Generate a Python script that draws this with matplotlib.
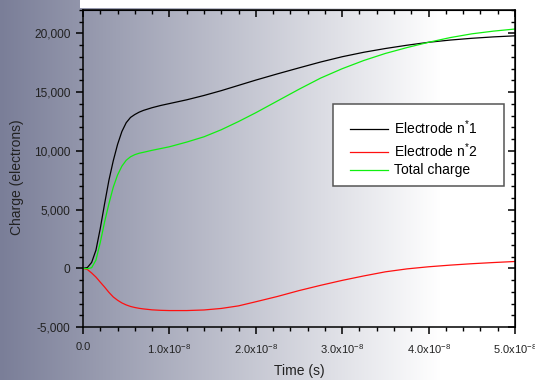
import numpy as np
import matplotlib
matplotlib.use("Agg")
import matplotlib.pyplot as plt
from matplotlib.ticker import MultipleLocator, FixedLocator, FuncFormatter
from matplotlib.patches import Rectangle

plt.rcParams['font.family'] = ['Liberation Sans', 'DejaVu Sans']
plt.rcParams['mathtext.fontset'] = 'custom'
plt.rcParams['mathtext.rm'] = 'Liberation Sans'
plt.rcParams['mathtext.it'] = 'Liberation Sans'

# Time samples (units of 1e-8 s)
time_e8 = [0, 0.05, 0.1, 0.15, 0.2, 0.25, 0.3, 0.35, 0.4, 0.45, 0.5, 0.55, 0.6,
           0.65, 0.7, 0.8, 0.9, 1.0, 1.2, 1.4, 1.6, 1.8, 2.0, 2.25, 2.5, 2.75,
           3.0, 3.25, 3.5, 3.75, 4.0, 4.25, 4.5, 4.75, 5.0]

# Collected charge (electrons)
electrode_1 = [0, 60, 500, 1550, 3400, 5500, 7500, 9150, 10550, 11650, 12400,
               12850, 13100, 13300, 13450, 13680, 13870, 14030, 14350, 14720,
               15130, 15580, 16030, 16560, 17070, 17570, 18020, 18400, 18720,
               19000, 19250, 19440, 19590, 19710, 19800]
electrode_2 = [0, -100, -400, -750, -1180, -1600, -2050, -2440, -2720, -2950,
               -3120, -3250, -3340, -3410, -3460, -3540, -3580, -3600, -3600,
               -3550, -3420, -3200, -2850, -2400, -1900, -1450, -1030, -650,
               -300, -50, 130, 270, 390, 490, 580]
total_charge = [0, -40, 50, 700, 2200, 3950, 5500, 6900, 7950, 8700, 9200,
                9500, 9680, 9800, 9880, 10050, 10200, 10350, 10750, 11200,
                11800, 12500, 13250, 14250, 15250, 16200, 17000, 17700, 18300,
                18800, 19250, 19650, 19970, 20200, 20380]

series_labels = [r"Electrode n$^{*}$1", r"Electrode n$^{*}$2", "Total charge"]
x_ticks_e8 = [0, 1, 2, 3, 4, 5]
x_tick_labels = ["0.0", r"1.0x10$^{-8}$", r"2.0x10$^{-8}$", r"3.0x10$^{-8}$",
                 r"4.0x10$^{-8}$", r"5.0x10$^{-8}$"]
y_ticks = [-5000, 0, 5000, 10000, 15000, 20000]

W, H = 535, 380
fig = plt.figure(figsize=(W / 100, H / 100), dpi=100)

# Horizontal slate-to-white backdrop
bg = fig.add_axes([0, 0, 1, 1], zorder=0)
xs = np.arange(W)
frac = np.clip(xs / 440.0, 0, 1)
c0 = np.array([122, 126, 152]) / 255.0
row = c0[None, :] * (1 - frac[:, None]) + frac[:, None]
img = np.repeat(row[None, :, :], 4, axis=0)
bg.imshow(img, aspect='auto', extent=[0, 1, 0, 1], interpolation='bilinear')
bg.add_patch(Rectangle((80 / W, 1 - 8 / H), 1, 8 / H, facecolor='white',
                       edgecolor='none'))
bg.set_xlim(0, 1)
bg.set_ylim(0, 1)
bg.axis('off')

ax = fig.add_axes([83 / W, 1 - 327 / H, 432 / W, 317 / H], zorder=1)
ax.set_facecolor('none')

t = np.array(time_e8) * 1e-8
ax.plot(t, electrode_1, color='black', lw=0.9, label=series_labels[0])
ax.plot(t, electrode_2, color='#ff1010', lw=0.9, label=series_labels[1])
ax.plot(t, total_charge, color='#10f010', lw=0.9, label=series_labels[2])

ax.set_xlim(0, 5e-8)
ax.set_ylim(-5000, 22000)

ax.xaxis.set_major_locator(FixedLocator([v * 1e-8 for v in x_ticks_e8]))
ax.set_xticklabels(x_tick_labels)
ax.xaxis.set_minor_locator(MultipleLocator(0.2e-8))
ax.yaxis.set_major_locator(FixedLocator(y_ticks))
ax.yaxis.set_major_formatter(FuncFormatter(lambda v, p: f"{int(v):,}"))
ax.yaxis.set_minor_locator(MultipleLocator(1000))

for sp in ax.spines.values():
    sp.set_linewidth(1.1)

ax.tick_params(which='major', direction='out', length=5, width=1.1,
               colors='black', labelcolor='#222222')
ax.tick_params(axis='x', which='major', pad=6, labelsize=8)
ax.tick_params(axis='y', which='major', pad=4, labelsize=8.6)
ax.tick_params(which='minor', direction='out', length=3, width=1.0)

# Inward ticks on the top and right edges
top = ax.secondary_xaxis('top')
top.xaxis.set_major_locator(FixedLocator([v * 1e-8 for v in x_ticks_e8]))
top.xaxis.set_minor_locator(MultipleLocator(0.2e-8))
top.tick_params(which='major', direction='in', length=5, width=1.1, labeltop=False)
top.tick_params(which='minor', direction='in', length=3, width=1.0)
right = ax.secondary_yaxis('right')
right.yaxis.set_major_locator(FixedLocator(y_ticks))
right.yaxis.set_minor_locator(MultipleLocator(1000))
right.tick_params(which='major', direction='in', length=5, width=1.1, labelright=False)
right.tick_params(which='minor', direction='in', length=3, width=1.0)

ax.set_xlabel("Time (s)", fontsize=10, color='#222222')
ax.set_ylabel("Charge (electrons)", fontsize=10, color='#222222')
ax.xaxis.set_label_coords(0.5, -0.117)
ax.yaxis.set_label_coords(-0.137, 0.472)

# Legend: white box with grey border, entries laid out inside it
box = Rectangle((333 / W, 1 - 186 / H), 171 / W, 82 / H, transform=fig.transFigure,
                facecolor='white', edgecolor='#555555', linewidth=1.1,
                zorder=4.5, clip_on=False)
ax.add_patch(box)
leg = ax.legend(loc='upper left', fontsize=10, frameon=False,
                borderpad=0, handlelength=2.75, handletextpad=0.4,
                labelspacing=0.28, borderaxespad=0)
leg.set_bbox_to_anchor((350 / W, 1 - 118.5 / H), transform=fig.transFigure)
leg.set_zorder(5)

fig.savefig("out.png", dpi=100)
